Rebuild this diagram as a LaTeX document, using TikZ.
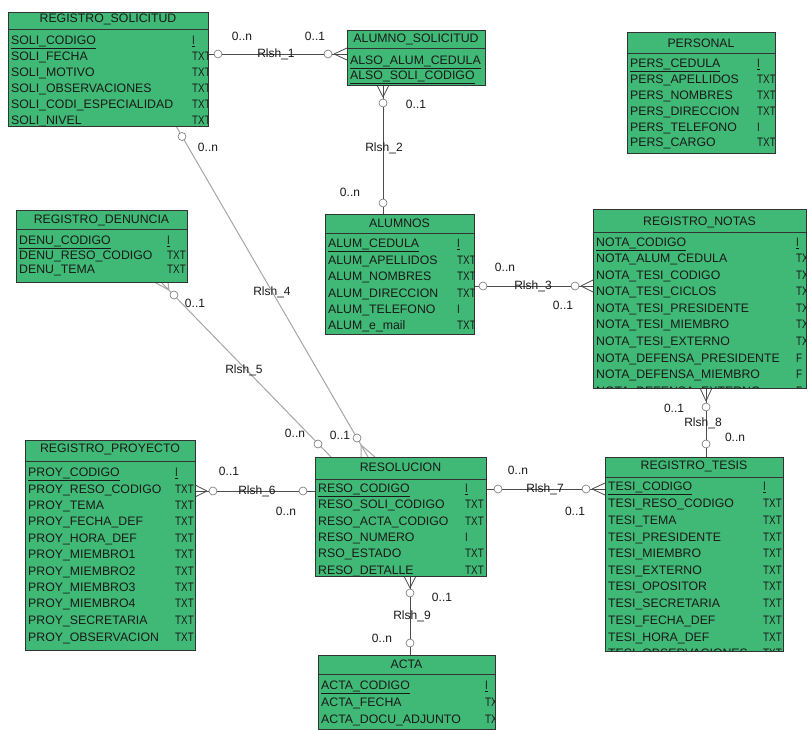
\documentclass[tikz,border=0pt]{standalone}
\usepackage{fontspec}
\setmainfont{Liberation Sans}
\definecolor{ergreen}{RGB}{64,185,118}
\tikzset{
 tbl/.style={draw=black!80, fill=ergreen, line width=0.8pt, inner sep=0pt, anchor=north west},
 hdr/.style={inner sep=0pt, font=\fontsize{12.3}{14}\selectfont, text=black!90},
 cell/.style={inner sep=0pt, anchor=base west, font=\fontsize{12.3}{14}\selectfont, text=black!90},
 sepl/.style={draw=black!80, line width=0.8pt},
 conn/.style={draw=black!70, line width=0.8pt},
 connl/.style={draw=black!35, line width=1pt},
 endc/.style={circle, draw=black!55, fill=white, line width=0.6pt, minimum size=8pt, inner sep=0pt},
 rel/.style={font=\fontsize{12}{14}\selectfont, text=black!90, inner sep=0pt},
 card/.style={font=\fontsize{12}{14}\selectfont, text=black!90, inner sep=0pt},
}
\newcommand\typex{0}
\newcommand\tyt[1]{\scalebox{0.8}[1]{#1}}
% #1 name, #2 x1, #3 y1, #4 x2, #5 y2, #6 title, #7 title y, #8 separator y, #9 rows
\newcommand\ertable[9]{%
 \node[tbl, minimum width={(#4-#2)*1pt}, minimum height={(#5-#3)*1pt}] (#1) at (#2,#3) {};
 \begin{scope}
  \clip (#2,#3) rectangle (#4,#5);
  \node[hdr] (#1-title) at ({(#2+#4)/2},#7) {#6};
  \draw[sepl] (#2,#8) -- (#4,#8);
  \foreach \nm/\ty/\yy [count=\i] in {#9} {
   \node[cell] (#1-n\i) at ({#2+3},{\yy+4.4}) {\nm};
   \node[cell] (#1-t\i) at (\typex,{\yy+4.4}) {\tyt{\ty}};
  }
 \end{scope}
 \draw[draw=black!80, line width=0.8pt] (#2,#3) rectangle (#4,#5);
}
\begin{document}
\begin{tikzpicture}[x=1pt,y=-1pt]
\useasboundingbox (0,0) rectangle (808,730);
\fill[white] (0,0) rectangle (808,730);

% ---------- connectors (drawn first) ----------
% Rlsh_1
\coordinate (r1a) at (208,54);
\coordinate (r1b) at (347,54);
\coordinate (r1t) at (334,54);
\draw[conn] (r1a) -- (r1b);
\draw[conn] (r1t) -- (347,48) (r1t) -- (347,60);
\node[endc] (r1c1) at (218,54) {};
\node[endc] (r1c2) at (328,54) {};
\node[rel] (r1l) at (276,54) {Rlsh\_1};
\node[card] (r1m) at (242,36) {0..n};
\node[card] (r1n) at (315,36) {0..1};

% Rlsh_2
\coordinate (r2a) at (383,85);
\coordinate (r2b) at (383,214);
\coordinate (r2t) at (383,97);
\draw[conn] (r2a) -- (r2b);
\draw[conn] (r2t) -- (377,85) (r2t) -- (389,85);
\node[endc] (r2c1) at (383,103) {};
\node[endc] (r2c2) at (383,203) {};
\node[rel] (r2l) at (384,148) {Rlsh\_2};
\node[card] (r2m) at (416,104) {0..1};
\node[card] (r2n) at (350,192) {0..n};

% Rlsh_3
\coordinate (r3a) at (474,286);
\coordinate (r3b) at (593,286);
\coordinate (r3t) at (581,286);
\draw[conn] (r3a) -- (r3b);
\draw[conn] (r3t) -- (593,280) (r3t) -- (593,292);
\node[endc] (r3c1) at (483,286) {};
\node[endc] (r3c2) at (575,286) {};
\node[rel] (r3l) at (533,286) {Rlsh\_3};
\node[card] (r3m) at (505,267) {0..n};
\node[card] (r3n) at (563,305) {0..1};

% Rlsh_4
\coordinate (r4a) at (176,126);
\coordinate (r4b) at (368,457);
\coordinate (r4t) at (361,445);
\draw[connl] (r4a) -- (r4b);
\draw[connl] (r4t) -- (361,457) (r4t) -- (375,457);
\node[endc] (r4c1) at (182,136.5) {};
\node[endc] (r4c2) at (357,438) {};
\node[rel] (r4l) at (272,292) {Rlsh\_4};
\node[card] (r4m) at (208,147) {0..n};
\node[card] (r4n) at (340,435) {0..1};

% Rlsh_5
\coordinate (r5a) at (161,282);
\coordinate (r5b) at (331,457);
\coordinate (r5t) at (169,290);
\draw[connl] (r5a) -- (r5b);
\draw[connl] (r5t) -- (154,282) (r5t) -- (168,282);
\node[endc] (r5c1) at (174,295) {};
\node[endc] (r5c2) at (318,444) {};
\node[rel] (r5l) at (244,370) {Rlsh\_5};
\node[card] (r5m) at (195,303) {0..1};
\node[card] (r5n) at (295,433) {0..n};

% Rlsh_6
\coordinate (r6a) at (195,491);
\coordinate (r6b) at (315,491);
\coordinate (r6t) at (207,491);
\draw[conn] (r6a) -- (r6b);
\draw[conn] (r6t) -- (195,485) (r6t) -- (195,497);
\node[endc] (r6c1) at (213,491) {};
\node[endc] (r6c2) at (303,491) {};
\node[rel] (r6l) at (257,491) {Rlsh\_6};
\node[card] (r6m) at (229,471) {0..1};
\node[card] (r6n) at (286,511) {0..n};

% Rlsh_7
\coordinate (r7a) at (486,489);
\coordinate (r7b) at (605,489);
\coordinate (r7t) at (592,489);
\draw[conn] (r7a) -- (r7b);
\draw[conn] (r7t) -- (605,483) (r7t) -- (605,495);
\node[endc] (r7c1) at (498,489) {};
\node[endc] (r7c2) at (586,489) {};
\node[rel] (r7l) at (545,489) {Rlsh\_7};
\node[card] (r7m) at (518,470) {0..n};
\node[card] (r7n) at (575,511) {0..1};

% Rlsh_8
\coordinate (r8a) at (706,388);
\coordinate (r8b) at (706,457);
\coordinate (r8t) at (706,401);
\draw[conn] (r8a) -- (r8b);
\draw[conn] (r8t) -- (700,388) (r8t) -- (712,388);
\node[endc] (r8c1) at (706,407) {};
\node[endc] (r8c2) at (706,444) {};
\node[rel] (r8l) at (703,423) {Rlsh\_8};
\node[card] (r8m) at (674,408) {0..1};
\node[card] (r8n) at (735,437) {0..n};

% Rlsh_9
\coordinate (r9a) at (410,576);
\coordinate (r9b) at (410,655);
\coordinate (r9t) at (410,588);
\draw[conn] (r9a) -- (r9b);
\draw[conn] (r9t) -- (404,576) (r9t) -- (416,576);
\node[endc] (r9c1) at (410,593) {};
\node[endc] (r9c2) at (410,643) {};
\node[rel] (r9l) at (412,616) {Rlsh\_9};
\node[card] (r9m) at (442,597) {0..1};
\node[card] (r9n) at (382,638) {0..n};

% ---------- tables ----------
\renewcommand\typex{192}
\ertable{sol}{8}{12}{208}{126}{REGISTRO\_SOLICITUD}{19}{29.5}{%
 \underline{SOLI\_CODIGO}/\underline{I}/40, SOLI\_FECHA/TXT/56, SOLI\_MOTIVO/TXT/72,
 SOLI\_OBSERVACIONES/TXT/88, SOLI\_CODI\_ESPECIALIDAD/TXT/104, SOLI\_NIVEL/TXT/120}

\renewcommand\typex{490}
\ertable{also}{347}{30}{485}{85}{ALUMNO\_SOLICITUD}{39}{48}{%
 \underline{ALSO\_ALUM\_CEDULA}/TXT/60, \underline{ALSO\_SOLI\_CODIGO}/TXT/75}

\renewcommand\typex{757}
\ertable{pers}{627}{32}{775}{153}{PERSONAL}{43}{53}{%
 \underline{PERS\_CEDULA}/\underline{I}/63, PERS\_APELLIDOS/TXT/79, PERS\_NOMBRES/TXT/95,
 PERS\_DIRECCION/TXT/111, PERS\_TELEFONO/I/127, PERS\_CARGO/TXT/142}

\renewcommand\typex{167}
\ertable{denu}{16}{210}{187}{282}{REGISTRO\_DENUNCIA}{220}{229}{%
 \underline{DENU\_CODIGO}/\underline{I}/240, DENU\_RESO\_CODIGO/TXT/255, DENU\_TEMA/TXT/269}

\renewcommand\typex{457}
\ertable{alum}{325}{214}{474}{334}{ALUMNOS}{223}{233}{%
 \underline{ALUM\_CEDULA}/\underline{I}/243, ALUM\_APELLIDOS/TXT/260, ALUM\_NOMBRES/TXT/276,
 ALUM\_DIRECCION/TXT/293, ALUM\_TELEFONO/I/309, ALUM\_e\_mail/TXT/325}

\renewcommand\typex{796}
\ertable{notas}{593}{209}{806}{388}{REGISTRO\_NOTAS}{222}{232}{%
 \underline{NOTA\_CODIGO}/\underline{I}/242, NOTA\_ALUM\_CEDULA/TXT/258, NOTA\_TESI\_CODIGO/TXT/275,
 NOTA\_TESI\_CICLOS/TXT/291, NOTA\_TESI\_PRESIDENTE/TXT/308, NOTA\_TESI\_MIEMBRO/TXT/324,
 NOTA\_TESI\_EXTERNO/TXT/341, NOTA\_DEFENSA\_PRESIDENTE/F/358, NOTA\_DEFENSA\_MIEMBRO/F/374,
 NOTA\_DEFENSA\_EXTERNO/F/391}

\renewcommand\typex{763}
\ertable{tesis}{605}{457}{783}{651}{REGISTRO\_TESIS}{466}{477}{%
 \underline{TESI\_CODIGO}/\underline{I}/486, TESI\_RESO\_CODIGO/TXT/503, TESI\_TEMA/TXT/520,
 TESI\_PRESIDENTE/TXT/537, TESI\_MIEMBRO/TXT/553, TESI\_EXTERNO/TXT/570, TESI\_OPOSITOR/TXT/586,
 TESI\_SECRETARIA/TXT/603, TESI\_FECHA\_DEF/TXT/620, TESI\_HORA\_DEF/TXT/637,
 TESI\_OBSERVACIONES/TXT/653}

\renewcommand\typex{175}
\ertable{proy}{25}{440}{195}{650}{REGISTRO\_PROYECTO}{449}{461}{%
 \underline{PROY\_CODIGO}/\underline{I}/472, PROY\_RESO\_CODIGO/TXT/489, PROY\_TEMA/TXT/505,
 PROY\_FECHA\_DEF/TXT/521, PROY\_HORA\_DEF/TXT/538, PROY\_MIEMBRO1/TXT/554, PROY\_MIEMBRO2/TXT/571,
 PROY\_MIEMBRO3/TXT/587, PROY\_MIEMBRO4/TXT/603, PROY\_SECRETARIA/TXT/620,
 PROY\_OBSERVACION/TXT/637}

\renewcommand\typex{465}
\ertable{reso}{315}{457}{486}{576}{RESOLUCION}{467}{479}{%
 \underline{RESO\_CODIGO}/\underline{I}/488, RESO\_SOLI\_CODIGO/TXT/504, RESO\_ACTA\_CODIGO/TXT/521,
 RESO\_NUMERO/I/537, RSO\_ESTADO/TXT/553, RESO\_DETALLE/TXT/570}

\renewcommand\typex{485}
\ertable{acta}{318}{655}{495}{729}{ACTA}{664}{674}{%
 \underline{ACTA\_CODIGO}/\underline{I}/685, ACTA\_FECHA/TXT/702, ACTA\_DOCU\_ADJUNTO/TXT/719}
\end{tikzpicture}
\end{document}
